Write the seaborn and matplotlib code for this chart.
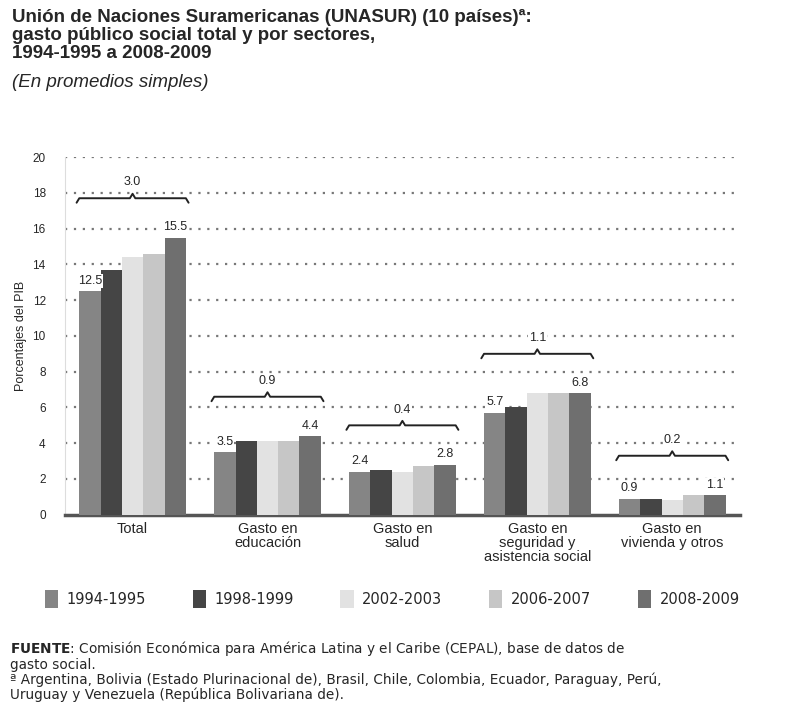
import matplotlib
matplotlib.use('Agg')
import matplotlib.pyplot as plt
import numpy as np
import pandas as pd
import seaborn as sns

# data (% of GDP, simple averages)
sectors = ['Total', 'Gasto en\neducación', 'Gasto en\nsalud',
           'Gasto en\nseguridad y\nasistencia social', 'Gasto en\nvivienda y otros']
periods = ['1994-1995', '1998-1999', '2002-2003', '2006-2007', '2008-2009']
v_1994 = [12.5, 3.5, 2.4, 5.7, 0.9]
v_1998 = [13.7, 4.1, 2.5, 6.0, 0.9]
v_2002 = [14.4, 4.1, 2.4, 6.8, 0.8]
v_2006 = [14.6, 4.1, 2.7, 6.8, 1.1]
v_2008 = [15.5, 4.4, 2.8, 6.8, 1.1]

palette = ['#858585', '#454545', '#e2e2e2', '#c6c6c6', '#6f6f6f']

series = [v_1994, v_1998, v_2002, v_2006, v_2008]
df = pd.DataFrame({
    'sector': np.repeat([sectors], len(periods), axis=0).ravel(),
    'period': np.repeat(periods, len(sectors)),
    'value': np.concatenate(series),
})

sns.set_style('white')
plt.rcParams['font.family'] = ['Liberation Sans', 'DejaVu Sans']

fig = plt.figure(figsize=(8.04, 7.24), dpi=100)
ax = fig.add_axes([0.081, 0.289, 0.839, 0.494])

sns.barplot(data=df, x='sector', y='value', hue='period', order=sectors,
            hue_order=periods, palette=palette, width=0.79, saturation=1,
            edgecolor='none', ax=ax, zorder=3)

ax.set_ylim(0, 20)
ax.set_xlim(-0.5, len(sectors) - 0.5)
ax.set_yticks(range(0, 21, 2))
ax.tick_params(axis='y', labelsize=8.5, length=5, width=1.5, color='#555555', pad=9)
ax.tick_params(axis='x', labelsize=10.5, length=0, pad=5)
for t in ax.get_xticklabels():
    t.set_linespacing(1.0)
ax.set_ylabel('Porcentajes del PIB', fontsize=9, labelpad=4)
ax.set_xlabel('')
for y in range(2, 21, 2):
    ax.axhline(y, color='#777777', lw=1.6, ls=(0, (1, 3)), zorder=1)
for side in ('top', 'right'):
    ax.spines[side].set_visible(False)
ax.spines['left'].set_color('#dddddd')
ax.spines['bottom'].set_color('#555555')
ax.spines['bottom'].set_linewidth(2.5)

lbl = dict(ha='center', va='bottom', fontsize=9, zorder=5,
           bbox=dict(facecolor='white', edgecolor='none', pad=0.6))

# value labels on first and last bars of each group, plus brace with change
first, last = ax.containers[0], ax.containers[-1]
for i in range(len(sectors)):
    b0, b1 = first[i], last[i]
    ax.text(b0.get_x() + b0.get_width() / 2, v_1994[i] + 0.25, f'{v_1994[i]:.1f}', **lbl)
    ax.text(b1.get_x() + b1.get_width() / 2, v_2008[i] + 0.25, f'{v_2008[i]:.1f}', **lbl)
    x0, x1 = b0.get_x() - 0.02, b1.get_x() + b1.get_width() + 0.02
    xc = (x0 + x1) / 2
    yb = max(v_1994[i], v_2008[i]) + 2.2
    ax.plot([x0, x0 + 0.02, xc - 0.02, xc, xc + 0.02, x1 - 0.02, x1],
            [yb - 0.25, yb, yb, yb + 0.25, yb, yb, yb - 0.25],
            color='#222222', lw=1.4, zorder=4, solid_joinstyle='round')
    ax.text(xc, yb + 0.55, f'{v_2008[i] - v_1994[i]:.1f}', **lbl)

ax.legend(loc='upper center', bbox_to_anchor=(0.485, -0.175), ncol=5, frameon=False,
          prop={'family': 'DejaVu Sans', 'size': 10.5}, handlelength=0.9,
          handleheight=1.5, columnspacing=3.2, handletextpad=0.6)

fig.text(0.015, 0.988, 'Unión de Naciones Suramericanas (UNASUR) (10 países)ª:\n'
         'gasto público social total y por sectores,\n1994-1995 a 2008-2009',
         ha='left', va='top', fontsize=13.5, fontweight='bold', linespacing=1.1)
fig.text(0.015, 0.898, '(En promedios simples)', ha='left', va='top',
         fontsize=13.5, style='italic')

foot = dict(ha='left', va='top', fontsize=9.8, family='DejaVu Sans', linespacing=1.0)
fig.text(0.012, 0.117, r'$\bf{FUENTE}$: Comisión Económica para América Latina y el Caribe (CEPAL), '
         'base de datos de\ngasto social.', **foot)
fig.text(0.012, 0.071, 'ª Argentina, Bolivia (Estado Plurinacional de), Brasil, Chile, Colombia, '
         'Ecuador, Paraguay, Perú,\nUruguay y Venezuela (República Bolivariana de).', **foot)

fig.savefig('out.png', dpi=100)
